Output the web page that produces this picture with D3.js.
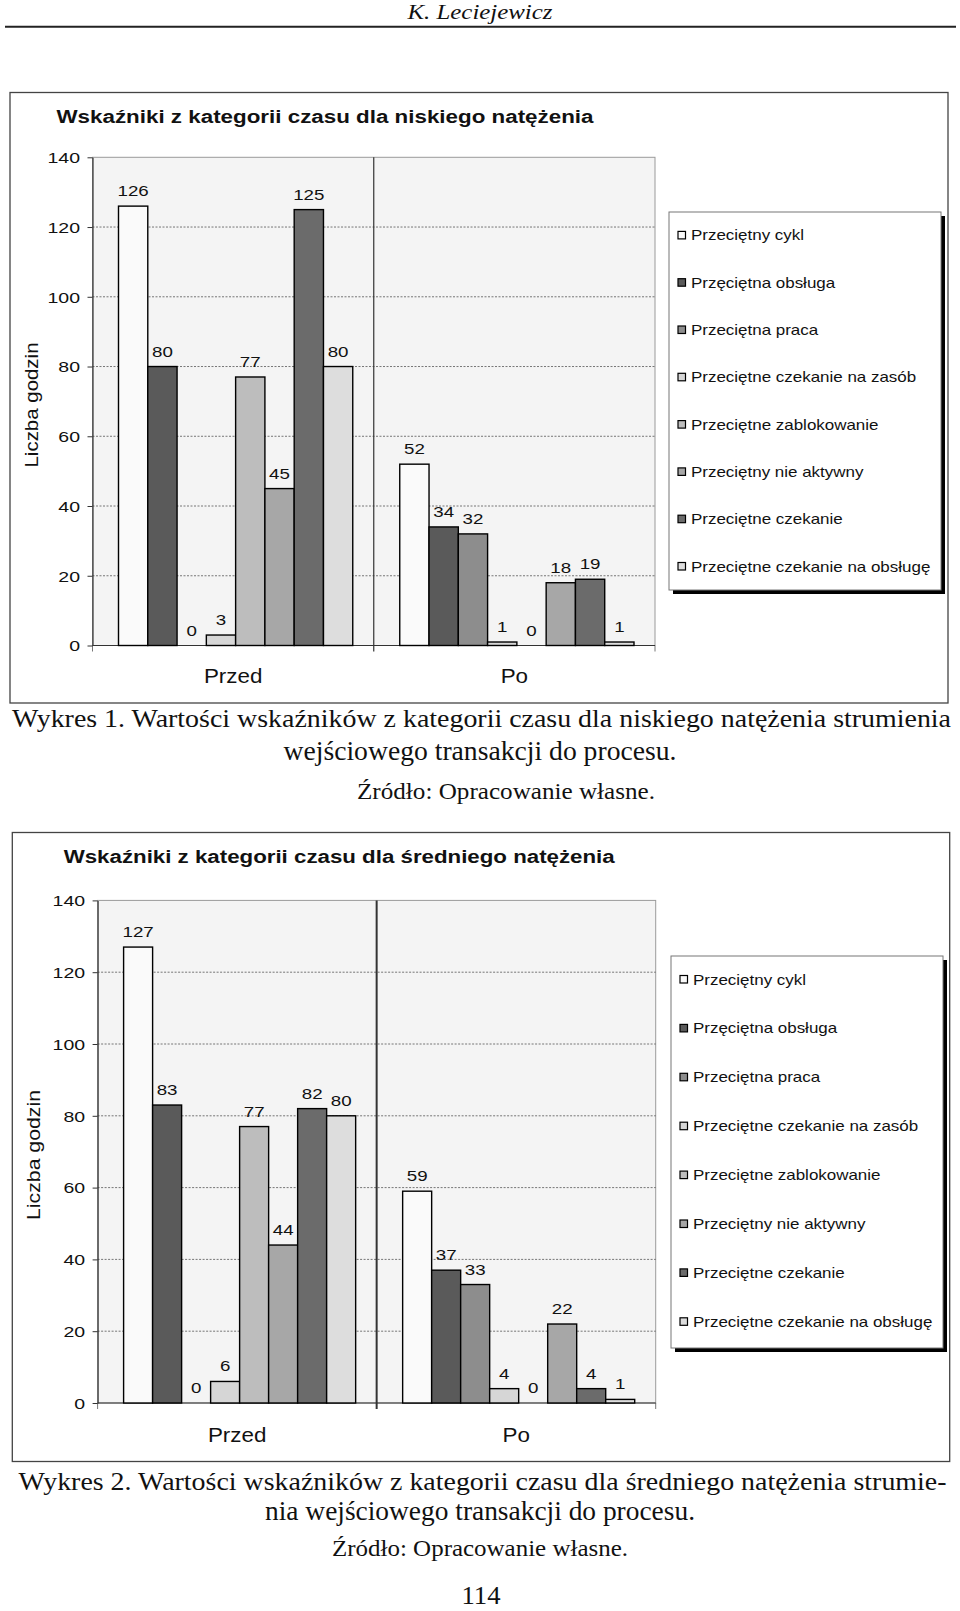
<!DOCTYPE html>
<html><head><meta charset="utf-8">
<script src="https://cdn.jsdelivr.net/npm/d3@7"></script>
<style>body{margin:0;background:#fff}svg{display:block}</style>
</head><body>
<svg id="page" width="960" height="1611"></svg>
<script>
// ---------- DATA ----------
const categories = ["Przed", "Po"];
const seriesNames = [
  "Przeciętny cykl",
  "Przęciętna obsługa",
  "Przeciętna praca",
  "Przeciętne czekanie na zasób",
  "Przeciętne zablokowanie",
  "Przeciętny nie aktywny",
  "Przeciętne czekanie",
  "Przeciętne czekanie na obsługę"
];
const lowPrzed = [126, 80, 0, 3, 77, 45, 125, 80];
const lowPo    = [52, 34, 32, 1, 0, 18, 19, 1];
const midPrzed = [127, 83, 0, 6, 77, 44, 82, 80];
const midPo    = [59, 37, 33, 4, 0, 22, 4, 1];
const yTicks = [0, 20, 40, 60, 80, 100, 120, 140];
const chartTitles = [
  "Wskaźniki z kategorii czasu dla niskiego natężenia",
  "Wskaźniki z kategorii czasu dla średniego natężenia"
];
const yTitle = "Liczba godzin";

// ---------- STYLE ----------
const seriesColors = ["#fafafa", "#5a5a5a", "#8d8d8d", "#d6d6d6", "#bdbdbd", "#a7a7a7", "#6b6b6b", "#dddddd"];
const sansFont = "'Liberation Sans', Arial, sans-serif";
const serifFont = "'Liberation Serif', 'Times New Roman', serif";

const svg = d3.select("#page");

function stext(g, x, y, str, o) {
  o = o || {};
  const t = g.append("text")
    .attr("transform", `translate(${x},${y}) scale(${o.sx || 1},1)`)
    .attr("font-family", o.font || sansFont)
    .attr("font-size", o.size || 14)
    .attr("font-weight", o.weight || "normal")
    .attr("font-style", o.style || "normal")
    .attr("text-anchor", o.anchor || "start")
    .attr("fill", o.fill || "#111")
    .text(str);
  if (o.len) t.attr("textLength", o.len).attr("lengthAdjust", "spacingAndGlyphs");
  return t;
}

// ---------- PAGE TEXT ----------
stext(svg, 480, 19, "K. Leciejewicz", {font: serifFont, style: "italic", size: 21, anchor: "middle", len: 145});
svg.append("line").attr("x1", 5).attr("x2", 956).attr("y1", 26.7).attr("y2", 26.7)
  .attr("stroke", "#222").attr("stroke-width", 2);

// ---------- CHARTS ----------
const layouts = [
  {frame: {x: 10, y: 92.5, w: 938, h: 610.5}, titleX: 56.5, titleY: 123, titleLen: 537,
   plot: {left: 92.5, right: 655, top: 157.3, bottom: 645.5}, sepW: 1.2,
   yTitleX: 38, yTitleY: 405, yTitleLen: 125, catY: 683,
   legend: {x: 669, y: 212, w: 272, h: 378, first: 235.4, step: 47.3}},
  {frame: {x: 12.3, y: 832.5, w: 937.4, h: 629}, titleX: 63.7, titleY: 863, titleLen: 551,
   plot: {left: 97.6, right: 655.7, top: 900.4, bottom: 1403}, sepW: 2,
   yTitleX: 40, yTitleY: 1155, yTitleLen: 130, catY: 1442,
   legend: {x: 671, y: 956, w: 272, h: 392, first: 979.5, step: 48.9}}
];
const chartData = [
  [lowPrzed, lowPo],
  [midPrzed, midPo]
];

layouts.forEach((L, ci) => {
  const g = svg.append("g");
  const P = L.plot;
  // frame
  g.append("rect").attr("x", L.frame.x).attr("y", L.frame.y).attr("width", L.frame.w).attr("height", L.frame.h)
    .attr("fill", "#fff").attr("stroke", "#444").attr("stroke-width", 1.3);
  // title
  stext(g, L.titleX, L.titleY, chartTitles[ci], {weight: "bold", size: 18, len: L.titleLen});

  const y = d3.scaleLinear().domain([0, 140]).range([P.bottom, P.top]);
  const x0 = d3.scaleBand().domain(categories).range([P.left, P.right]);
  const bw = x0.bandwidth();
  const x1 = d3.scaleBand().domain(d3.range(seriesNames.length)).range([26, bw - 21]);

  // plot background
  g.append("rect").attr("x", P.left).attr("y", P.top).attr("width", P.right - P.left).attr("height", P.bottom - P.top)
    .attr("fill", "#f4f4f4").attr("stroke", "#9a9a9a").attr("stroke-width", 1);

  // gridlines
  g.append("g").selectAll("line").data(yTicks.filter(t => t > 0 && t < 140)).join("line")
    .attr("x1", P.left).attr("x2", P.right).attr("y1", d => y(d)).attr("y2", d => y(d))
    .attr("stroke", "#555").attr("stroke-width", 0.8).attr("stroke-dasharray", "2,1.5");

  // separator and category ticks
  const sepXs = [P.left, x0("Po"), P.right];
  g.append("g").selectAll("line").data(sepXs).join("line")
    .attr("x1", d => d).attr("x2", d => d)
    .attr("y1", (d, i) => i === 1 ? P.top : P.bottom).attr("y2", P.bottom + 6)
    .attr("stroke", (d, i) => i === 1 ? "#333" : "#777").attr("stroke-width", (d, i) => i === 1 ? L.sepW : 1);

  // y axis
  const ax = g.append("g").attr("transform", `translate(${P.left},0)`)
    .call(d3.axisLeft(y).tickValues(yTicks).tickSize(5).tickSizeOuter(0));
  ax.select(".domain").attr("stroke", "#333").attr("stroke-width", 1.2);
  ax.selectAll(".tick line").attr("stroke", "#333");
  ax.selectAll(".tick text").attr("x", null).attr("dy", "0.35em")
    .attr("transform", "translate(-12.5,0) scale(1.3,1)")
    .attr("font-family", sansFont).attr("font-size", 15).attr("fill", "#111");
  // baseline
  g.append("line").attr("x1", P.left).attr("x2", P.right).attr("y1", y(0)).attr("y2", y(0))
    .attr("stroke", "#333").attr("stroke-width", 1.2);

  // y title
  g.append("text").attr("transform", `translate(${L.yTitleX},${L.yTitleY}) rotate(-90)`)
    .attr("text-anchor", "middle").attr("font-family", sansFont).attr("font-size", 18)
    .attr("fill", "#111").attr("textLength", L.yTitleLen).attr("lengthAdjust", "spacingAndGlyphs")
    .text(yTitle);

  // bars
  const rows = [];
  categories.forEach((c, k) => chartData[ci][k].forEach((v, s) => rows.push({c, s, v})));
  g.append("g").selectAll("rect").data(rows).join("rect")
    .attr("x", d => x0(d.c) + x1(d.s)).attr("width", x1.bandwidth())
    .attr("y", d => y(d.v)).attr("height", d => y(0) - y(d.v))
    .attr("fill", d => seriesColors[d.s]).attr("stroke", "#000").attr("stroke-width", 1.4);

  // value labels
  const lg = g.append("g");
  rows.forEach(d => {
    stext(lg, x0(d.c) + x1(d.s) + x1.bandwidth() / 2, y(d.v) - 10, String(d.v),
      {size: 15, sx: 1.25, anchor: "middle"});
  });

  // category labels
  categories.forEach(c => stext(g, x0(c) + bw / 2, L.catY, c, {size: 20, sx: 1.12, anchor: "middle"}));

  // legend
  const Lg = L.legend;
  g.append("rect").attr("x", Lg.x + 4).attr("y", Lg.y + 4).attr("width", Lg.w).attr("height", Lg.h).attr("fill", "#000");
  g.append("rect").attr("x", Lg.x).attr("y", Lg.y).attr("width", Lg.w).attr("height", Lg.h)
    .attr("fill", "#fff").attr("stroke", "#777").attr("stroke-width", 1);
  seriesNames.forEach((n, i) => {
    const yy = Lg.first + i * Lg.step;
    g.append("rect").attr("x", Lg.x + 9).attr("y", yy - 4).attr("width", 7.5).attr("height", 7.5)
      .attr("fill", seriesColors[i]).attr("stroke", "#000").attr("stroke-width", 1.2);
    stext(g, Lg.x + 22, yy + 5, n, {size: 14.5, sx: 1.17});
  });
});

// ---------- CAPTIONS ----------
stext(svg, 12, 727, "Wykres 1. Wartości wskaźników z kategorii czasu dla niskiego natężenia strumienia",
  {font: serifFont, size: 26, len: 939});
stext(svg, 480, 760, "wejściowego transakcji do procesu.", {font: serifFont, size: 27, anchor: "middle", len: 393});
stext(svg, 506, 799, "Źródło: Opracowanie własne.", {font: serifFont, size: 24, anchor: "middle", len: 298});

stext(svg, 18.5, 1490, "Wykres 2. Wartości wskaźników z kategorii czasu dla średniego natężenia strumie-",
  {font: serifFont, size: 26, len: 928});
stext(svg, 480, 1520, "nia wejściowego transakcji do procesu.", {font: serifFont, size: 27, anchor: "middle", len: 430});
stext(svg, 480, 1556, "Źródło: Opracowanie własne.", {font: serifFont, size: 24, anchor: "middle", len: 296});
stext(svg, 481, 1604, "114", {font: serifFont, size: 26, anchor: "middle", len: 39});
</script>
</body></html>
